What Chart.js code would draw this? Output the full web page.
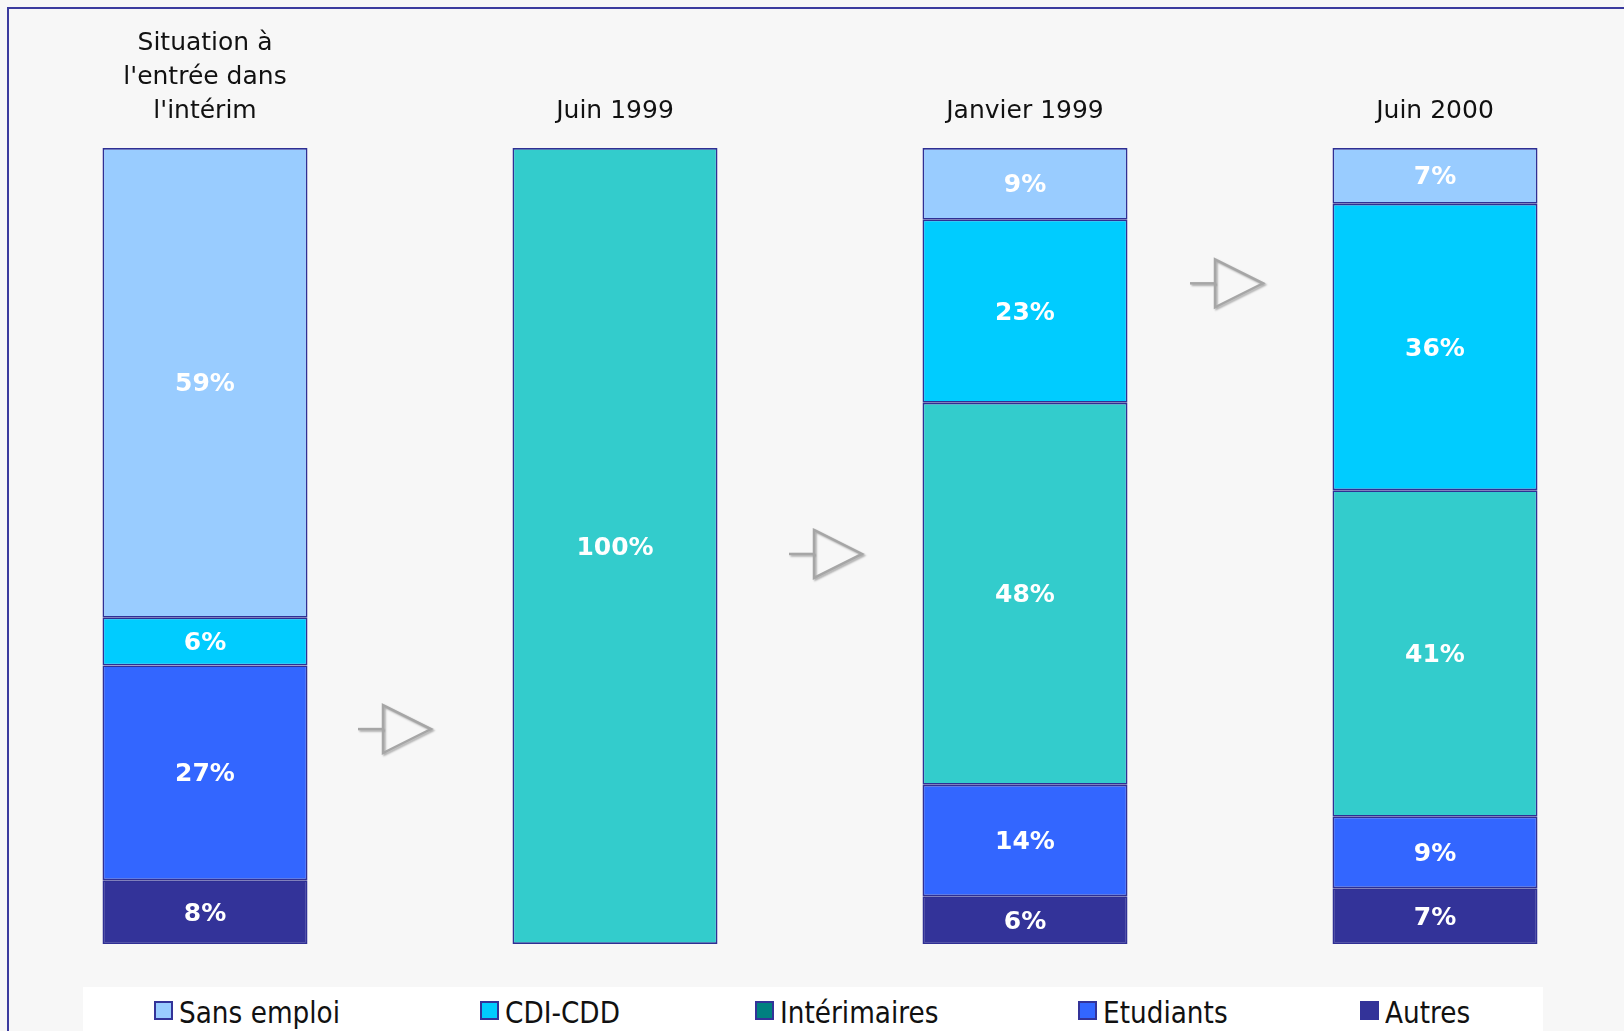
<!DOCTYPE html>
<html>
<head>
<meta charset="utf-8">
<script src="https://cdn.jsdelivr.net/npm/chart.js@4.4.0/dist/chart.umd.min.js"></script>
<style>
  html, body { margin: 0; padding: 0; overflow: hidden; background: #f7f7f7; }
  body { width: 1624px; height: 1031px; position: relative; }
  #frame {
    position: absolute; left: 7px; top: 7px; width: 1700px; height: 1100px;
    border: 2px solid #3b3b9e; box-sizing: border-box;
  }
  #wrap { position: absolute; left: 0; top: 0; width: 1640px; height: 1031px; }
  #legend {
    position: absolute; left: 83px; top: 987px; width: 1460px; height: 50px;
    background: #fff;
  }
  .item { position: absolute; top: 0; white-space: nowrap; }
  .box {
    position: absolute; left: 0; top: 14px; width: 15px; height: 15px;
    border: 2px solid #333399;
  }
  .lbl {
    position: absolute; left: 25px; top: 10px;
    font-family: "DejaVu Sans", sans-serif; font-size: 31px; line-height: 31px; color: #111;
    transform: scaleX(0.85); transform-origin: left center;
  }
</style>
</head>
<body>
<div id="frame"></div>
<div id="wrap"><canvas id="chart"></canvas></div>
<div id="legend"></div>
<script>
// categories (top labels)
const categories = [
  ['Situation à', "l'entrée dans", "l'intérim"],
  'Juin 1999',
  'Janvier 1999',
  'Juin 2000'
];

// series, bottom of the stack first
const autres       = [8, null, 6, 7];
const etudiants    = [27, null, 14, 9];
const interimaires = [null, 100, 48, 41];
const cdiCdd       = [6, null, 23, 36];
const sansEmploi   = [59, null, 9, 7];

// arrow heights between bars (in % of the stack)
const arrowLevels = [27, 49, 83];
const arrowShift = [-15, 6, -3];          // px, horizontal nudge
const legendX = [71, 397, 672, 995, 1277]; // px inside the legend strip

const series = [
  { label: 'Autres', data: autres, color: '#333399', legendColor: '#333399' },
  { label: 'Etudiants', data: etudiants, color: '#3366ff', legendColor: '#3366ff' },
  { label: 'Intérimaires', data: interimaires, color: '#33cccc', legendColor: '#008080' },
  { label: 'CDI-CDD', data: cdiCdd, color: '#00ccff', legendColor: '#00ccff' },
  { label: 'Sans emploi', data: sansEmploi, color: '#99ccff', legendColor: '#99ccff' }
];

// value labels inside each segment
const valueLabels = {
  id: 'valueLabels',
  afterDatasetsDraw(chart) {
    const ctx = chart.ctx;
    ctx.save();
    ctx.fillStyle = '#ffffff';
    ctx.font = 'bold 25px "DejaVu Sans", sans-serif';
    ctx.textAlign = 'center';
    ctx.textBaseline = 'middle';
    chart.data.datasets.forEach((ds, i) => {
      chart.getDatasetMeta(i).data.forEach((bar, j) => {
        const v = ds.data[j];
        if (v == null) return;
        ctx.fillText(v + '%', bar.x, (bar.y + bar.base) / 2 + 2);
      });
    });
    ctx.restore();
  }
};

// gray outline arrows between the bars
const arrows = {
  id: 'arrows',
  afterDatasetsDraw(chart) {
    const ctx = chart.ctx;
    const xs = chart.scales.x, ys = chart.scales.y;
    ctx.save();
    arrowLevels.forEach((lvl, i) => {
      const mid = (xs.getPixelForValue(i) + xs.getPixelForValue(i + 1)) / 2 + arrowShift[i];
      const y = ys.getPixelForValue(lvl);
      const l = mid - 12;
      ctx.shadowColor = 'rgba(0,0,0,0.3)';
      ctx.shadowBlur = 2;
      ctx.shadowOffsetX = 1.5;
      ctx.shadowOffsetY = 1.5;
      ctx.strokeStyle = '#a6a6a6';
      ctx.lineWidth = 2.5;
      ctx.beginPath();
      ctx.moveTo(mid - 37, y);
      ctx.lineTo(l, y);
      ctx.stroke();
      ctx.beginPath();
      ctx.moveTo(l, y - 24);
      ctx.lineTo(mid + 36, y);
      ctx.lineTo(l, y + 24);
      ctx.closePath();
      ctx.stroke();
    });
    ctx.restore();
  }
};

new Chart(document.getElementById('chart'), {
  type: 'bar',
  data: {
    labels: categories,
    datasets: series.map(s => ({
      label: s.label,
      data: s.data,
      backgroundColor: s.color,
      borderColor: '#2f2f94',
      borderWidth: 1.7,
      borderSkipped: false,
      barPercentage: 1,
      categoryPercentage: 0.5
    }))
  },
  options: {
    responsive: true,
    maintainAspectRatio: false,
    animation: false,
    layout: { padding: { top: 0, bottom: 87, left: 0, right: 0 } },
    plugins: { legend: { display: false }, tooltip: { enabled: false } },
    scales: {
      x: {
        position: 'top',
        stacked: true,
        grid: { display: false, drawTicks: false },
        border: { display: false },
        ticks: {
          color: '#111',
          padding: 20,
          maxRotation: 0,
          font: { family: '"DejaVu Sans", sans-serif', size: 25, lineHeight: 1.35 }
        },
        afterFit(scale) { scale.height = 148; }
      },
      y: {
        display: false,
        stacked: true,
        min: 0,
        max: 100
      }
    }
  },
  plugins: [valueLabels, arrows]
});

// html legend, same order as reference (top of stack first)
const legend = document.getElementById('legend');
series.slice().reverse().forEach((s, i) => {
  const item = document.createElement('div');
  item.className = 'item';
  item.style.left = legendX[i] + 'px';
  item.innerHTML = '<span class="box" style="background:' + s.legendColor + '"></span>' +
    '<span class="lbl">' + s.label + '</span>';
  legend.appendChild(item);
});
</script>
</body>
</html>
